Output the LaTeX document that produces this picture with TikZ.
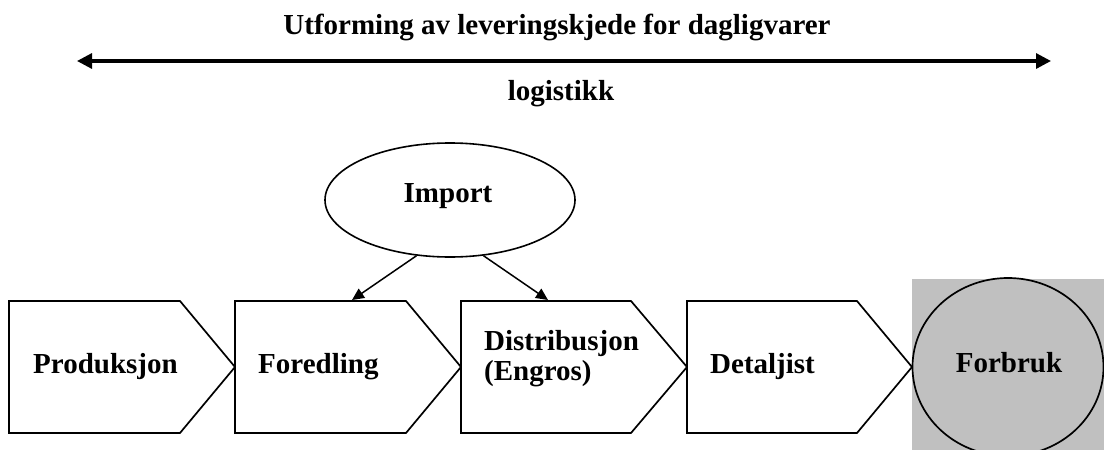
\documentclass[tikz,border=0pt]{standalone}
\usepackage{fontspec}
\setmainfont{Liberation Serif}
\usetikzlibrary{arrows.meta,shapes.geometric}
\definecolor{gray75}{RGB}{192,192,192}
\tikzset{
  lbl/.style={inner sep=0pt, font=\bfseries\fontsize{29}{30}\selectfont},
  chev/.style={draw=black, line width=1.7pt, fill=white, line join=miter},
  bigarrow/.style={line width=3.2pt, {Triangle[length=15pt,width=15pt]}-{Triangle[length=15pt,width=15pt]}},
  imparrow/.style={line width=1.5pt, -{Triangle[length=12pt,width=11pt]}},
}
\begin{document}
\begin{tikzpicture}[x=1pt,y=-1pt]
\useasboundingbox (0,0) rectangle (1104,450);
\clip (0,0) rectangle (1104,450);
% top arrow
\coordinate (aL) at (77,61);
\coordinate (aR) at (1051,61);
\draw[bigarrow] (aL) -- (aR);
\node[lbl, anchor=base] (title) at (557,34) {Utforming av leveringskjede for dagligvarer};
\node[lbl, anchor=base] (logi) at (561,100) {logistikk};
% chevrons
\draw[chev] (9,301) -- (180,301) -- (235,367) -- (180,433) -- (9,433) -- cycle;
\draw[chev] (235,301) -- (406,301) -- (461,367) -- (406,433) -- (235,433) -- cycle;
\draw[chev] (461,301) -- (631,301) -- (687,367) -- (631,433) -- (461,433) -- cycle;
\draw[chev] (687,301) -- (857,301) -- (912,367) -- (857,433) -- (687,433) -- cycle;
\coordinate (foredTop) at (352,300);
\coordinate (distTop) at (548,300);
\node[lbl, anchor=base west] (prod) at (33,373) {Produksjon};
\node[lbl, anchor=base west] (fored) at (258,373) {Foredling};
\node[lbl, anchor=base west, align=left] (dist) at (484,380) {Distribusjon\\(Engros)};
\node[lbl, anchor=base west] (detal) at (710,373) {Detaljist};
% Forbruk
\fill[gray75] (912,279) rectangle (1110,460);
\node[draw=black, line width=1.7pt, fill=gray75, ellipse, minimum width=191pt, minimum height=178pt, inner sep=0pt] (forb) at (1008,367) {};
\node[lbl, anchor=base] (forbtxt) at (1009,372) {Forbruk};
% Import
\node[draw=black, line width=1.6pt, ellipse, minimum width=250pt, minimum height=114pt, inner sep=0pt] (imp) at (450,200) {};
\node[lbl, anchor=base] (imptxt) at (448,202) {Import};
\draw[imparrow] (imp.-121) -- (foredTop);
\draw[imparrow] (imp.-59) -- (distTop);
\end{tikzpicture}
\end{document}
